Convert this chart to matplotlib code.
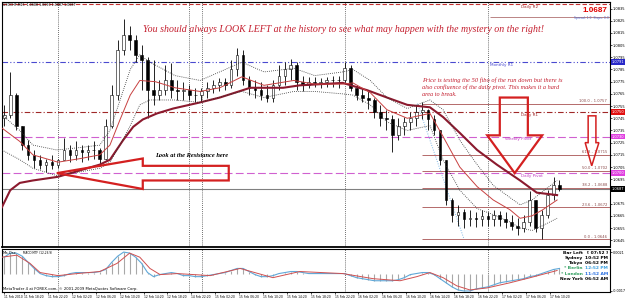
import matplotlib
matplotlib.use("Agg")
import matplotlib.pyplot as plt
import matplotlib.transforms as mtransforms
from matplotlib.patches import Polygon

# ---------------- data (hours from 12 Feb 00:00, trading time) ----------------
bar_hours = list(range(-9, 85))
open_first = 1.0745
closes = [1.0748, 1.0764, 1.0739, 1.0723, 1.0715, 1.0711, 1.0707, 1.0709, 1.0707,
          1.0711, 1.0719, 1.0715, 1.0719, 1.0717, 1.0719, 1.0719, 1.0712, 1.0739, 1.0764,
          1.0801, 1.0813, 1.0809, 1.0797, 1.0793, 1.0768, 1.0764, 1.0768, 1.0776, 1.0768,
          1.0767, 1.0768, 1.0764, 1.0764, 1.0767, 1.0770, 1.0772, 1.0775, 1.0772, 1.0785,
          1.0797, 1.0776, 1.0770, 1.0768, 1.0764, 1.0762, 1.0772, 1.0780, 1.0785, 1.0789,
          1.0775, 1.0772, 1.0775, 1.0774, 1.0775, 1.0776, 1.0776, 1.0776, 1.0786, 1.0770,
          1.0764, 1.0762, 1.0760, 1.0750, 1.0745, 1.0744, 1.0731, 1.0739, 1.0742, 1.0745,
          1.0750, 1.0752, 1.0744, 1.0735, 1.0711, 1.0678, 1.0666, 1.0668, 1.0662, 1.0663,
          1.0662, 1.0665, 1.0662, 1.0666, 1.0662, 1.0660, 1.0657, 1.0655, 1.0660, 1.0678,
          1.0655, 1.0666, 1.0682, 1.0690, 1.0687]
highs = [1.0756, 1.0783, 1.0766, 1.0739, 1.0727, 1.0719, 1.0715, 1.0712, 1.0715,
         1.0712, 1.0729, 1.0723, 1.0726, 1.0723, 1.0723, 1.0726, 1.0721, 1.0744, 1.0772,
         1.0809, 1.0826, 1.0821, 1.0813, 1.0805, 1.0795, 1.0793, 1.0776, 1.0789, 1.0790,
         1.0776, 1.0775, 1.0772, 1.0770, 1.0770, 1.0775, 1.0776, 1.0778, 1.0778, 1.0793,
         1.0803, 1.0801, 1.0780, 1.0776, 1.0775, 1.0772, 1.0776, 1.0789, 1.0791, 1.0794,
         1.0791, 1.0780, 1.0779, 1.0779, 1.0778, 1.0779, 1.0780, 1.0780, 1.0791, 1.0789,
         1.0772, 1.0770, 1.0767, 1.0762, 1.0756, 1.0752, 1.0748, 1.0745, 1.0746, 1.0750,
         1.0756, 1.0758, 1.0753, 1.0748, 1.0735, 1.0711, 1.0680, 1.0674, 1.0671, 1.0670,
         1.0668, 1.0670, 1.0668, 1.0670, 1.0669, 1.0668, 1.0666, 1.0663, 1.0666, 1.0685,
         1.0678, 1.0670, 1.0686, 1.0697, 1.0694]
lows = [1.0739, 1.0745, 1.0735, 1.0719, 1.0711, 1.0704, 1.0703, 1.0701, 1.0703,
        1.0704, 1.0711, 1.0709, 1.0711, 1.0709, 1.0711, 1.0712, 1.0706, 1.0711, 1.0737,
        1.0760, 1.0797, 1.0801, 1.0791, 1.0768, 1.0745, 1.0756, 1.0760, 1.0764, 1.0762,
        1.0760, 1.0760, 1.0760, 1.0758, 1.0758, 1.0762, 1.0766, 1.0767, 1.0768, 1.0770,
        1.0780, 1.0772, 1.0764, 1.0762, 1.0760, 1.0758, 1.0758, 1.0768, 1.0772, 1.0776,
        1.0768, 1.0767, 1.0770, 1.0771, 1.0770, 1.0771, 1.0771, 1.0770, 1.0775, 1.0767,
        1.0760, 1.0758, 1.0753, 1.0745, 1.0739, 1.0735, 1.0717, 1.0727, 1.0731, 1.0735,
        1.0739, 1.0744, 1.0735, 1.0731, 1.0707, 1.0674, 1.0660, 1.0657, 1.0655, 1.0657,
        1.0656, 1.0657, 1.0657, 1.0657, 1.0657, 1.0655, 1.0653, 1.0649, 1.0652, 1.0657,
        1.0652, 1.0646, 1.0663, 1.0678, 1.0685]

slow_ma_hours = [-9.4, -8, -6.4, -4.2, 0, 7, 8.7, 10.9, 12.6, 14.2, 16.6, 19.3, 23.8, 27.1, 32.2,
                 37.7, 40.5, 47.7, 51.8, 55.1, 58.5, 62.3, 64.5, 67.3, 70.2, 73.5, 77.4, 80.2, 83.6]
slow_ma = [1.0672, 1.0686, 1.0692, 1.0694, 1.0697, 1.0707, 1.0711, 1.0727, 1.0738, 1.0744, 1.0749,
           1.0753, 1.0758, 1.0762, 1.0770, 1.0770, 1.0772, 1.0774, 1.0768, 1.0762, 1.0756, 1.0754,
           1.0746, 1.0733, 1.0719, 1.0707, 1.0694, 1.0684, 1.0682]

fast_ma_hours = [-9.4, -6.4, -4.2, 0, 3.8, 7, 8.7, 10.4, 12.1, 13.7, 16.3, 19.6, 23.8, 27.1, 30.8,
                 34.5, 39.5, 43, 47.7, 49.4, 52.3, 55.1, 58.5, 62.3, 64.5, 67.3, 70.2, 72.9, 75.7,
                 77.4, 79.4, 81.2, 83.6]
fast_ma = [1.0737, 1.0726, 1.0715, 1.0709, 1.0712, 1.0715, 1.0723, 1.0744, 1.0764, 1.0776, 1.0775,
           1.0770, 1.0767, 1.0770, 1.0779, 1.0772, 1.0776, 1.0773, 1.0773, 1.0774, 1.0766, 1.0752,
           1.0745, 1.0749, 1.0730, 1.0705, 1.0689, 1.0678, 1.0670, 1.0663, 1.0665, 1.0670, 1.0678]

band_hours = [-9.4, -6.4, -4.2, -0.2, 3.7, 7.0, 8.7, 10.4, 12.1, 13.7, 15.4, 19.6, 23.8, 30.8, 34.5,
              39.5, 43.0, 47.7, 49.4, 52.3, 55.1, 58.5, 62.3, 64.5, 67.3, 70.2, 72.9, 75.7, 77.4,
              79.4, 81.2, 83.6]
band_upper = [1.0748, 1.0735, 1.0723, 1.0719, 1.0721, 1.0723, 1.0735, 1.0760, 1.0785, 1.0797, 1.0791,
              1.0780, 1.0776, 1.0791, 1.0783, 1.0786, 1.0780, 1.0783, 1.0785, 1.0776, 1.0762, 1.0753,
              1.0760, 1.0752, 1.0727, 1.0707, 1.0690, 1.0680, 1.0674, 1.0678, 1.0685, 1.0694]
band_lower = [1.0719, 1.0711, 1.0704, 1.0698, 1.0701, 1.0704, 1.0709, 1.0723, 1.0739, 1.0756, 1.0760,
              1.0760, 1.0758, 1.0767, 1.0762, 1.0767, 1.0767, 1.0765, 1.0764, 1.0756, 1.0742, 1.0735,
              1.0739, 1.0711, 1.0686, 1.0671, 1.0666, 1.0660, 1.0655, 1.0653, 1.0657, 1.0663]

macd_main = [0.0016, 0.0020, 0.0020, 0.0017, 0.0011, 0.0005, 0.0000, -0.0002, -0.0003,
             -0.0003, -0.0002, 0.0000, 0.0001, 0.0001, 0.0001, 0.0001, 0.0002, 0.0004, 0.0011,
             0.0017, 0.0021, 0.0020, 0.0016, 0.0010, 0.0001, -0.0003, -0.0001, 0.0000, 0.0001,
             0.0000, -0.0002, -0.0002, -0.0003, -0.0003, -0.0002, -0.0001, 0.0000, 0.0001, 0.0003,
             0.0005, 0.0005, 0.0002, -0.0001, -0.0003, -0.0003, -0.0002, 0.0000, 0.0001, 0.0002,
             0.0002, 0.0001, 0.0000, 0.0000, 0.0000, 0.0000, 0.0000, 0.0000, 0.0000, -0.0002,
             -0.0004, -0.0005, -0.0006, -0.0007, -0.0007, -0.0007, -0.0007, -0.0006, -0.0004, -0.0001,
             0.0000, 0.0001, 0.0001, -0.0001, -0.0005, -0.0009, -0.0013, -0.0016, -0.0017, -0.0017,
             -0.0015, -0.0014, -0.0013, -0.0011, -0.0009, -0.0008, -0.0007, -0.0006, -0.0005, -0.0003,
             -0.0002, 0.0000, 0.0002, 0.0004, 0.0005]
signal_hours = [-9.4, -6.9, -4.7, -3, 0, 3.2, 7, 9.9, 12, 13.7, 15.4, 17.1, 20, 25.5, 30.5, 36, 40.5,
                47.7, 52.8, 57.3, 60.1, 62.3, 64.5, 66.8, 69, 71.9, 75.7, 79.1, 83.6]
signal = [0.0016, 0.0018, 0.0010, 0.0001, -0.0002, 0.0000, 0.0002, 0.0010, 0.0020, 0.0016, 0.0005,
          -0.0001, 0.0000, -0.0002, 0.0005, -0.0004, 0.0002, 0.0000, -0.0005, -0.0007, -0.0003,
          0.0001, -0.0004, -0.0012, -0.0016, -0.0014, -0.0009, -0.0004, 0.0003]

day_separators = [0, 21.9, 24.1, 48, 72]
time_tick_hours = [-9, -5.67, -1.67, 2.33, 6.33, 10.33, 14.33, 18.33, 22.33, 26.33, 30.33, 34.33,
                   38.33, 42.33, 46.33, 50.33, 54.33, 58.33, 62.33, 66.33, 70.33, 74.33, 78.33, 82.33]
time_tick_labels = ["11 Feb 2010", "11 Feb 18:20", "11 Feb 22:20", "12 Feb 02:20", "12 Feb 06:20",
                    "12 Feb 10:20", "12 Feb 14:20", "12 Feb 18:20", "14 Feb 22:20", "15 Feb 02:20",
                    "15 Feb 06:20", "15 Feb 10:20", "15 Feb 14:20", "15 Feb 18:20", "15 Feb 22:20",
                    "16 Feb 02:20", "16 Feb 06:20", "16 Feb 10:20", "16 Feb 14:20", "16 Feb 18:20",
                    "16 Feb 22:20", "17 Feb 02:20", "17 Feb 06:20", "17 Feb 10:20"]
price_ticks = [1.0645, 1.0655, 1.0665, 1.0675, 1.0695, 1.0705, 1.0715, 1.0725, 1.0735, 1.0745,
               1.0755, 1.0765, 1.0775, 1.0785, 1.0795, 1.0805, 1.0815, 1.0825, 1.0835]

pivot_names = ["Daily R2", "Monthly R1", "Daily R1", "Weekly Pivot", "Daily Pivot"]
pivot_levels = [1.0839, 1.0791, 1.0750, 1.0730, 1.0700]
pivot_colors = ["#c83232", "#4a4ad0", "#a02828", "#d060d0", "#d060d0"]
pivot_tag_colors = [None, "#2828c8", "#e01010", "#e040e0", "#e040e0"]
current_price = 1.0687

fib_ratios = ["0.0", "23.6", "38.2", "50.0", "61.8", "100.0"]
fib_levels = [1.0646, 1.0672, 1.0688, 1.0702, 1.0715, 1.0757]
fib_start_hour = 61
fib_trend_hours = [60.2, 68.0]
fib_trend_prices = [1.0757, 1.0646]

# arrows (time, price) outlines
left_arrow_h = [-0.2, 14.2, 14.2, 28.6, 28.6, 14.2, 14.2]
left_arrow_p = [1.0700, 1.0712, 1.0706, 1.0706, 1.0694, 1.0694, 1.0687]
mid_arrow_h = [74.0, 78.7, 78.7, 81.1, 76.5, 71.9, 74.0]
mid_arrow_p = [1.0762, 1.0762, 1.0731, 1.0731, 1.0700, 1.0731, 1.0731]
right_arrow_h = [88.8, 90.1, 90.1, 90.6, 89.4, 88.3, 88.8]
right_arrow_p = [1.0747, 1.0747, 1.0725, 1.0725, 1.0706, 1.0725, 1.0725]

session_names = ["Bar Left", "Sydney", "Tokyo", "* Berlin", "* London", "New York"]
session_times = ["[ 07:52 ]", "10:52 PM", "06:52 PM", "12:52 PM", "11:52 AM", "06:52 AM"]
session_name_colors = ["black", "black", "black", "#2e9e5e", "#2e9e5e", "black"]
session_time_colors = ["black", "black", "black", "#3aa0e0", "#2a6fe0", "black"]

# ---------------- figure ----------------
W, H = 625, 300
fig = plt.figure(figsize=(W / 100, H / 100), dpi=100)
fig.patch.set_facecolor("white")


def rect(x0, y0, x1, y1):
    return [x0 / W, 1 - y1 / H, (x1 - x0) / W, (y1 - y0) / H]


ax = fig.add_axes(rect(2, 2, 610, 247))
axm = fig.add_axes(rect(2, 249, 610, 292), sharex=ax)
XMIN, XMAX = -9.38, 92.46
ax.set_xlim(XMIN, XMAX)
ax.set_ylim(1.063944, 1.084034)
axm.set_ylim(-0.0018, 0.0024)

for a in (ax, axm):
    for s in a.spines.values():
        s.set_color("black")
        s.set_linewidth(0.8)
ax.spines["bottom"].set_linewidth(1.3)

# candles
opens = [open_first] + closes[:-1]
bottoms = [min(o, c) for o, c in zip(opens, closes)]
heights = [max(abs(c - o), 0.00003) for o, c in zip(opens, closes)]
faces = ["white" if c >= o else "black" for o, c in zip(opens, closes)]
ax.vlines(bar_hours, lows, highs, color="black", lw=0.6, zorder=4)
ax.bar(bar_hours, heights, bottom=bottoms, width=0.45, color=faces, edgecolor="black",
       linewidth=0.4, zorder=5)

# moving averages
ax.plot(slow_ma_hours, slow_ma, color="#8b1a2e", lw=1.5, zorder=6)
ax.plot(fast_ma_hours, fast_ma, color="#c84040", lw=0.7, zorder=6)
ax.plot(band_hours, band_upper, color="#303030", lw=0.6, ls=(0, (1, 1.5)), zorder=6)
ax.plot(band_hours, band_lower, color="#303030", lw=0.6, ls=(0, (1, 1.5)), zorder=6)
ax.plot(fib_trend_hours, fib_trend_prices, color="#7fb8e6", lw=0.7, ls=(0, (1, 1.5)), zorder=3)

# pivots
styles = [(0, (4, 2)), (0, (5, 2, 1, 2, 1, 2)), (0, (5, 2, 1, 2)), (0, (7, 3)), (0, (7, 3))]
for lvl, col, st in zip(pivot_levels, pivot_colors, styles):
    ax.axhline(lvl, color=col, lw=0.8, ls=st, zorder=2)
ax.axhline(current_price, color="#808080", lw=0.8, zorder=2)
ax.hlines(1.0828, 72.4, XMAX, color="#b07070", lw=0.6, zorder=2)

label_pos = [(77.5, 1.0836, "#a02828"), (72.3, 1.0789, "#4a4ad0"), (77.5, 1.0748, "#a02828"),
             (74.8, 1.0728, "#c040c0"), (77.5, 1.0698, "#c040c0")]
for name, (h, p, col) in zip(pivot_names, label_pos):
    ax.text(h, p, name, fontsize=3.0, color=col, ha="left", va="center", zorder=7)

# fibo
for r, lvl in zip(fib_ratios, fib_levels):
    ax.hlines(lvl, fib_start_hour, XMAX, color="#b46a6a", lw=0.7, zorder=3)
    ax.text(XMAX - 0.5, lvl + 0.00004, f"{r} - {lvl:.4f}", fontsize=2.7, color="#8a4a4a",
            ha="right", va="bottom", zorder=7)

# day separators
for d in day_separators:
    ax.axvline(d, color="#404040", lw=0.6, ls=(0, (1, 1.5)), zorder=1)
    axm.axvline(d, color="#404040", lw=0.6, ls=(0, (1, 1.5)), zorder=1)

# arrows
for hs, ps, lw in ((left_arrow_h, left_arrow_p, 1.6), (mid_arrow_h, mid_arrow_p, 1.6),
                   (right_arrow_h, right_arrow_p, 1.1)):
    ax.add_patch(Polygon(list(zip(hs, ps)), closed=True, fill=False, edgecolor="#d42020",
                         lw=lw, zorder=8, joinstyle="miter"))

# price axis
ax.yaxis.tick_right()
ax.set_yticks(price_ticks)
ax.set_yticklabels([f"{v:.4f}" for v in price_ticks])
ax.tick_params(axis="y", labelsize=2.6, length=1.2, width=0.5, pad=0.8)
ax.tick_params(axis="x", bottom=False, labelbottom=False)
blend = mtransforms.blended_transform_factory(ax.transAxes, ax.transData)
for lvl, tag in zip(pivot_levels, pivot_tag_colors):
    if tag:
        ax.text(1.0025, lvl, f"{lvl:.4f}", transform=blend, fontsize=2.6, color="white",
                ha="left", va="center", zorder=9,
                bbox=dict(boxstyle="square,pad=0.2", fc=tag, ec="none"))
ax.text(1.0025, current_price, f"{current_price:.4f}", transform=blend, fontsize=2.6, color="white",
        ha="left", va="center", zorder=9, bbox=dict(boxstyle="square,pad=0.2", fc="black", ec="none"))

# MACD panel
axm.vlines(bar_hours, 0, macd_main, color="#a8a8a8", lw=0.8, zorder=2)
axm.plot(bar_hours, macd_main, color="#5fa8d8", lw=0.8, zorder=3)
axm.plot(signal_hours, signal, color="#d05050", lw=0.7, zorder=3)
axm.yaxis.tick_right()
axm.set_yticks([0.0021, -0.0017])
axm.set_yticklabels(["0.0021", "-0.0017"])
axm.tick_params(axis="y", labelsize=2.4, length=1.2, width=0.5, pad=0.8)
axm.set_xticks(time_tick_hours)
axm.set_xticklabels(time_tick_labels, ha="left")
axm.tick_params(axis="x", labelsize=2.2, length=1.2, width=0.5, pad=1)

# ---------------- texts ----------------
fig.canvas.draw()
renderer = fig.canvas.get_renderer()


def fit_text(s, x0, x1, y, base=6.0, **kw):
    t = fig.text(x0 / W, 1 - y / H, s, ha="left", va="center", fontsize=base, **kw)
    w = t.get_window_extent(renderer).width
    t.set_fontsize(base * (x1 - x0) / w)
    return t


serif_it = dict(family="Liberation Serif", style="italic")
fit_text("You should always LOOK LEFT at the history to see what may happen with the mystery on the right!",
         143, 546, 29, color="#c41e2e", **serif_it)
fit_text("Price is testing the 50 fibo of the run down but there is", 422, 564, 80, color="#c41e2e", **serif_it)
t2 = fit_text("also confluence of the daily pivot. This makes it a hard", 422, 561, 87.5, color="#c41e2e", **serif_it)
fig.text(422 / W, 1 - 95 / H, "area to break.", ha="left", va="center",
         fontsize=t2.get_fontsize(), color="#c41e2e", **serif_it)
fit_text("Look at the Resistance here", 155, 228, 155, color="black", weight="bold", **serif_it)
fit_text("1.0687", 583, 608, 11, color="#e00000", weight="bold", family="Liberation Sans")
fit_text("Spread: 1.0  Stops: 0.0", 574, 608, 18, color="#4a6ad0", family="DejaVu Sans")
fit_text("USDCHF,M15  1.0688 1.0690 1.0687 1.0687", 3, 76, 4.5, color="black", family="DejaVu Sans")
fit_text("MetaTrader 4 at FOREX.com, \u00a9 2001-2009 MetaQuotes Software Corp.", 3, 135, 289,
         color="black", family="DejaVu Sans")
fit_text("Ma.Osc", 3, 17, 253, color="black", family="DejaVu Sans")
fit_text("MACD MTF (12,26,9)", 23, 53, 253, color="black", family="DejaVu Sans")

for i, (n, tm, nc, tc) in enumerate(zip(session_names, session_times, session_name_colors,
                                         session_time_colors)):
    y = 252.5 + i * 5.3
    fig.text(583 / W, 1 - y / H, n, ha="right", va="center", fontsize=3.2, color=nc,
             weight="bold", family="DejaVu Sans")
    fig.text(608 / W, 1 - y / H, tm, ha="right", va="center", fontsize=3.2, color=tc,
             weight="bold", family="DejaVu Sans")

fig.savefig("out.png", dpi=100, facecolor="white")
